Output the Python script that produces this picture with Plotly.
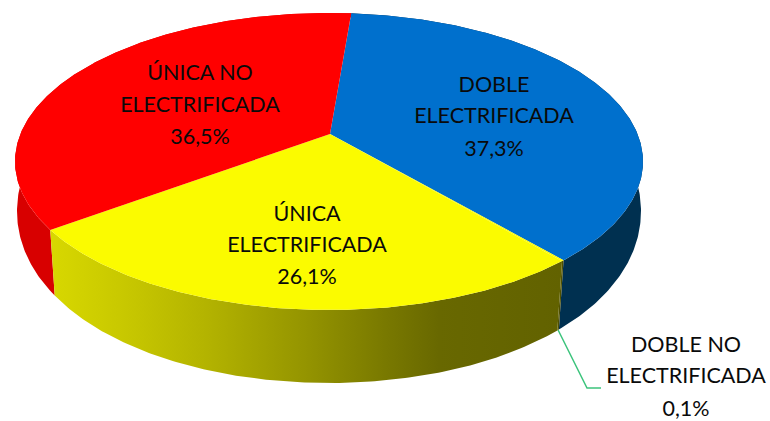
import numpy as np
import plotly.graph_objects as go

# ---- data -------------------------------------------------------------
categories = ["DOBLE ELECTRIFICADA", "DOBLE NO ELECTRIFICADA",
              "ÚNICA ELECTRIFICADA", "ÚNICA NO ELECTRIFICADA"]
values = [37.3, 0.1, 26.1, 36.5]
percent_labels = ["37,3%", "0,1%", "26,1%", "36,5%"]
top_colors = ["#0070CD", "#FBFB00", "#FBFB00", "#FF0000"]
side_colors = ["#003050", "#505000", None, "#D80000"]

label_lines = [["DOBLE", "ELECTRIFICADA"], ["DOBLE NO", "ELECTRIFICADA"],
               ["ÚNICA", "ELECTRIFICADA"], ["ÚNICA NO", "ELECTRIFICADA"]]

# ---- projection of the tilted disc onto the page ------------------------
START_DEG = 4.9
CX, CY, RX, RY = 329.0, 161.5, 314.0, 148.5
CX2, CY2, RX2, RY2 = 329.0, 200.0, 312.0, 183.0
T, T2X, T2Y = 0.185, 0.165, 0.105
label_pos = [(494, [87, 118, 151]), (686, [347, 378, 411]),
             (307, [216, 247, 279]), (200, [75, 107, 139])]
FONT = "Lato, Carlito, sans-serif"
FONT_SIZE = 21.5


def disc(deg, t):
    a = np.radians(deg)
    u, v = np.sin(a), np.cos(a)
    d = 1 + t * v
    return u * np.sqrt(1 - t * t) / d, (v + t) / d


def top(deg):
    u, v = disc(deg, T)
    return CX + RX * u, CY - RY * v


def bottom(deg):
    ux, _ = disc(deg, T2X)
    _, vy = disc(deg, T2Y)
    return CX2 + RX2 * ux, CY2 - RY2 * vy


fractions = np.cumsum([0] + values) / sum(values)
edges = START_DEG + 360 * fractions
fig = go.Figure()
plain = dict(mode="lines", line=dict(width=0), hoverinfo="skip", showlegend=False)

yellow_scale = [[0.0, "#D8D800"], [0.16, "#C6C600"], [0.30, "#B4B400"],
                [0.50, "#949400"], [0.66, "#787800"], [0.76, "#686800"],
                [1.0, "#626200"]]

# walls first (back to front)
for i in [3, 0, 1, 2]:
    deg = np.linspace(edges[i], edges[i + 1], max(3, int(values[i] * 6)))
    tx, ty = top(deg)
    bx, by = bottom(deg)
    x = np.r_[tx, bx[::-1]]
    y = np.r_[ty, by[::-1]]
    if side_colors[i] is None:
        fig.add_trace(go.Scatter(x=x, y=y, fill="toself", fillcolor="rgba(0,0,0,0)",
                                 fillgradient=dict(type="horizontal", colorscale=yellow_scale),
                                 **plain))
    else:
        fig.add_trace(go.Scatter(x=x, y=y, fill="toself", fillcolor=side_colors[i], **plain))

# top faces
for i in range(len(values)):
    deg = np.linspace(edges[i], edges[i + 1], max(3, int(values[i] * 6)))
    tx, ty = top(deg)
    ax, ay = (CX + 1, CY - RY * T)
    fig.add_trace(go.Scatter(x=np.r_[ax, tx, ax], y=np.r_[ay, ty, ay], fill="toself",
                             fillcolor=top_colors[i], **plain))

# leader line of the smallest slice
mid = (edges[1] + edges[2]) / 2
lx, ly = bottom(mid)
fig.add_trace(go.Scatter(x=[lx, 587, 601], y=[ly, 388, 388], mode="lines",
                         line=dict(color="#3CC47C", width=1.5), hoverinfo="skip",
                         showlegend=False))

# labels
for i in range(len(values)):
    px, ys = label_pos[i]
    lines = label_lines[i] + [percent_labels[i]]
    fig.add_trace(go.Scatter(x=[px] * 3, y=ys, mode="text", text=lines,
                             textposition="middle center",
                             textfont=dict(family=FONT, size=FONT_SIZE, color="#0A0A0A"),
                             hoverinfo="skip", showlegend=False))

fig.update_layout(width=770, height=421, margin=dict(l=0, r=0, t=0, b=0),
                  paper_bgcolor="white", plot_bgcolor="white", showlegend=False,
                  xaxis=dict(range=[0, 770], visible=False, fixedrange=True),
                  yaxis=dict(range=[421, 0], visible=False, fixedrange=True))
fig.write_html("out.html", config={"displayModeBar": False},
               post_script="document.body.style.margin='0';")
